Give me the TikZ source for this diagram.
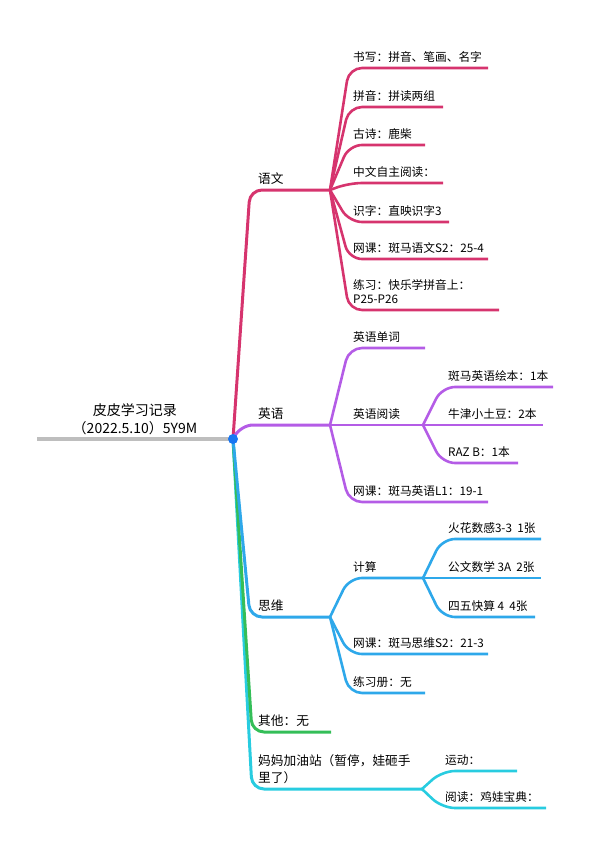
\documentclass[tikz,border=0pt]{standalone}
\usepackage{fontspec}
\setmainfont{Noto Sans CJK SC}
\usetikzlibrary{positioning}
\definecolor{rootgray}{RGB}{190,190,190}
\definecolor{dotblue}{RGB}{24,118,242}
\definecolor{yuwen}{RGB}{214,52,110}
\definecolor{yingyu}{RGB}{180,92,230}
\definecolor{siwei}{RGB}{46,168,234}
\definecolor{qita}{RGB}{52,190,88}
\definecolor{mama}{RGB}{40,204,224}
\tikzset{
  branch/.style={line width=3pt,rounded corners=12pt},
  twig/.style={line width=2.6pt,rounded corners=13pt},
  toplbl/.style={align=center,anchor=base,inner sep=0pt,font=\fontsize{14}{18}\selectfont},
  mainlbl/.style={align=left,anchor=base west,inner sep=0pt,font=\fontsize{12.7}{16.5}\selectfont},
  lbl/.style={align=left,anchor=base west,inner sep=0pt,font=\fontsize{11.7}{14}\selectfont},
}

\begin{document}
\begin{tikzpicture}[x=1pt,y=-1pt]
\useasboundingbox (0,0) rectangle (591,847);
% junctions
\coordinate (root) at (233,439);
\coordinate (start) at (37,439);
\coordinate (yw) at (330,190);
\coordinate (yy) at (330,425);
\coordinate (yyrd) at (423,425);
\coordinate (sw) at (330,617);
\coordinate (js) at (423,578);
\coordinate (qt) at (331,732);
\coordinate (mm) at (422,789);

% root
\draw[rootgray,line width=3.5pt] (start) -- (root);
\node[toplbl] (title) at (135,433) {皮皮学习记录\\（2022.5.10）5Y9M};

% 语文
\draw[yuwen,branch] (root) -- (250,190) -- (yw);
\node[mainlbl] (yuwenlbl) at (258,183) {语文};
\draw[yuwen,twig] (yw) -- (349,68) -- (488,68);
\draw[yuwen,twig] (yw) -- (349,107) -- (443,107);
\draw[yuwen,twig] (yw) -- (349,145) -- (425,145);
\draw[yuwen,twig] (yw) -- (349,183) -- (443,183);
\draw[yuwen,twig] (yw) -- (349,222) -- (449,222);
\draw[yuwen,twig] (yw) -- (349,259) -- (488,259);
\draw[yuwen,twig] (yw) -- (349,310) -- (499,310);
\node[lbl] (sx) at (353,61) {书写：拼音、笔画、名字};
\node[lbl] (py) at (353,100) {拼音：拼读两组};
\node[lbl] (gs) at (353,138) {古诗：鹿柴};
\node[lbl] (zw) at (353,176) {中文自主阅读：};
\node[lbl] (sz) at (353,215) {识字：直映识字3};
\node[lbl] (wkyw) at (353,252) {网课：斑马语文S2：25-4};
\node[lbl] (lx) at (353,303) {练习：快乐学拼音上：\\P25-P26};

% 英语
\draw[yingyu,branch] (root) -- (241,425) -- (yy);
\node[mainlbl] (yingyulbl) at (258,418) {英语};
\draw[yingyu,twig] (yy) -- (349,348) -- (425,348);
\draw[yingyu,twig] (yy) -- (yyrd) -- (543,425);
\draw[yingyu,twig] (yy) -- (349,502) -- (488,502);
\draw[yingyu,twig] (yyrd) -- (442,387) -- (553,387);
\draw[yingyu,twig] (yyrd) -- (442,463) -- (518,463);
\node[lbl] (dc) at (353,341) {英语单词};
\node[lbl] (yd) at (353,418) {英语阅读};
\node[lbl] (wkyy) at (353,495) {网课：斑马英语L1：19-1};
\node[lbl] (hb) at (448,380) {斑马英语绘本：1本};
\node[lbl] (nj) at (448,418) {牛津小土豆：2本};
\node[lbl] (raz) at (448,456) {RAZ B：1本};

% 妈妈加油站 / 其他 / 思维
\draw[mama,branch] (root) -- (252,789) -- (mm);
\draw[qita,branch] (root) -- (252,732) -- (qt);
\draw[siwei,branch] (root) -- (250,617) -- (sw);
\node[mainlbl] (siweilbl) at (258,610) {思维};
\draw[siwei,twig] (sw) -- (349,578) -- (js);
\draw[siwei,twig] (sw) -- (349,654) -- (488,654);
\draw[siwei,twig] (sw) -- (349,693) -- (425,693);
\draw[siwei,twig] (js) -- (442,539) -- (541,539);
\draw[siwei,twig] (js) -- (541,578);
\draw[siwei,twig] (js) -- (442,617) -- (535,617);
\node[lbl] (js-l) at (353,571) {计算};
\node[lbl] (wksw) at (353,647) {网课：斑马思维S2：21-3};
\node[lbl] (lxc) at (353,686) {练习册：无};
\node[lbl] (hh) at (448,532) {火花数感3-3\ \ 1张};
\node[lbl] (gw) at (448,571) {公文数学 3A\ \ 2张};
\node[lbl] (sw45) at (448,610) {四五快算 4\ \ 4张};

\node[mainlbl] (qitalbl) at (258,725) {其他：无};
\node[mainlbl] (mamalbl) at (258,782) {妈妈加油站（暂停，娃砸手\\里了）};
\draw[mama,twig] (mm) -- (442,771) -- (517,771);
\draw[mama,twig] (mm) -- (442,808) -- (546,808);
\node[lbl] (yundong) at (445,764) {运动：};
\node[lbl] (yuedu) at (445,801) {阅读：鸡娃宝典：};

\fill[dotblue] (root) circle[radius=5pt];
\end{tikzpicture}
\end{document}
